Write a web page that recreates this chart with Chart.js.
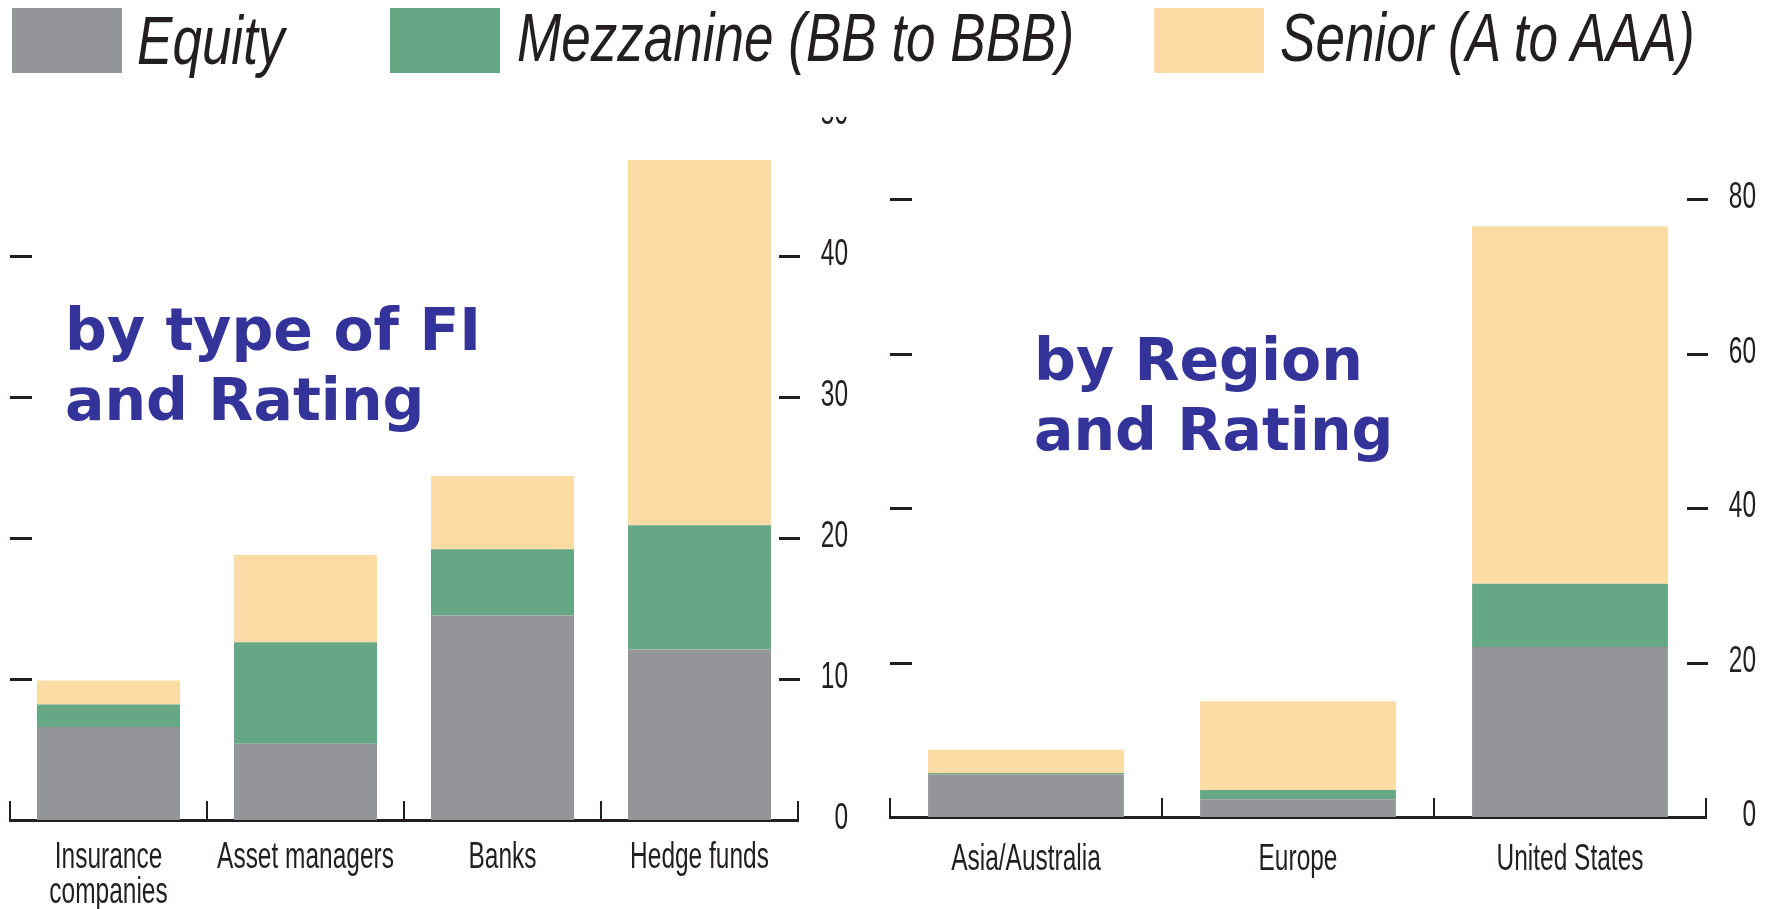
<!DOCTYPE html>
<html>
<head>
<meta charset="utf-8">
<script src="https://cdn.jsdelivr.net/npm/chart.js@4.4.1/dist/chart.umd.min.js"></script>
<style>
  html, body { margin: 0; padding: 0; background: #fff; }
  body { width: 1767px; height: 909px; position: relative; overflow: hidden; }
  .sw { position: absolute; top: 8px; width: 110px; height: 65px; }
  .lab { position: absolute; top: 3px; font: italic 68px 'Liberation Sans', Arial, sans-serif;
         line-height: 68px; color: #231f20; white-space: nowrap;
         transform: scaleX(0.78); transform-origin: 0 0; }
  #fiWrap { position: absolute; left: 0; top: 117px; width: 860px; height: 792px; overflow: hidden; }
  #fiChart { position: absolute; left: 0; top: -32px; }
  #regionChart { position: absolute; left: 880px; top: 92px; }
</style>
</head>
<body>
<div id="legend"></div>
<div id="fiWrap"><canvas id="fiChart" width="858" height="825"></canvas></div>
<canvas id="regionChart" width="886" height="815"></canvas>
<script>
const seriesNames = ['Equity', 'Mezzanine (BB to BBB)', 'Senior (A to AAA)'];
const seriesColors = ['#939598', '#66a886', '#fddba5'];

const fiTypes = [['Insurance', 'companies'], 'Asset managers', 'Banks', 'Hedge funds'];
const fiEquity = [6.6, 5.4, 14.5, 12.1];
const fiMezzanine = [1.6, 7.2, 4.7, 8.8];
const fiSenior = [1.7, 6.2, 5.2, 25.9];

const regions = ['Asia/Australia', 'Europe', 'United States'];
const regionEquity = [5.5, 2.3, 22.0];
const regionMezzanine = [0.2, 1.2, 8.2];
const regionSenior = [3.0, 11.5, 46.3];

const axisColor = '#231f20';
const labelFont = "'Liberation Sans', Arial, sans-serif";
const squeeze = 0.68; // the original uses a condensed face

// legend across the top
const legendX = [[12, 137], [390, 517], [1154, 1280]];
const legend = document.getElementById('legend');
seriesNames.forEach((name, i) => {
  const sw = document.createElement('div');
  sw.className = 'sw';
  sw.style.left = legendX[i][0] + 'px';
  sw.style.background = seriesColors[i];
  legend.appendChild(sw);
  const lab = document.createElement('div');
  lab.className = 'lab';
  lab.style.left = legendX[i][1] + 'px';
  if (i === 0) lab.style.top = '6px';
  lab.textContent = name;
  legend.appendChild(lab);
});

// short inward ticks on both sides and category separators on the baseline
const innerTicks = {
  id: 'innerTicks',
  afterDatasetsDraw(chart) {
    const { ctx, chartArea: a, scales: { x, y } } = chart;
    ctx.save();
    ctx.strokeStyle = axisColor;
    ctx.lineWidth = 3;
    ctx.beginPath();
    y.ticks.forEach(t => {
      if (t.value === 0) return;
      const py = Math.round(y.getPixelForValue(t.value)) + 0.5;
      ctx.moveTo(a.left, py);
      ctx.lineTo(a.left + 22, py);
      ctx.moveTo(a.right - 19, py);
      ctx.lineTo(a.right + 2, py);
    });
    ctx.stroke();
    ctx.lineWidth = 2;
    ctx.beginPath();
    for (let i = 0; i <= x.ticks.length; i++) {
      const px = Math.round(x.getPixelForValue(i - 0.5));
      ctx.moveTo(px, a.bottom);
      ctx.lineTo(px, a.bottom - 19);
    }
    ctx.stroke();
    ctx.restore();
  }
};

function fillSqueezed(ctx, s, x, y, align) {
  ctx.save();
  ctx.translate(x, y);
  ctx.scale(squeeze, 1);
  ctx.textAlign = align;
  ctx.fillText(s, 0, 0);
  ctx.restore();
}

// axis labels in a condensed look, placed from the scales
const squeezedLabels = {
  id: 'squeezedLabels',
  afterDraw(chart, args, opts) {
    const { ctx, chartArea: a, scales: { x, y } } = chart;
    ctx.save();
    ctx.fillStyle = axisColor;
    ctx.font = '36px ' + labelFont;
    ctx.textBaseline = 'alphabetic';
    y.ticks.forEach(t => {
      fillSqueezed(ctx, String(t.value), a.right + 50, y.getPixelForValue(t.value) + 9, 'right');
    });
    x.getLabels().forEach((lab, i) => {
      const lines = Array.isArray(lab) ? lab : [lab];
      lines.forEach((s, j) => {
        fillSqueezed(ctx, s, x.getPixelForValue(i), a.bottom + opts.xOffset + j * 35, 'center');
      });
    });
    ctx.restore();
  }
};

const panelTitle = {
  id: 'panelTitle',
  afterDraw(chart, args, opts) {
    const ctx = chart.ctx;
    ctx.save();
    ctx.font = 'bold 58.5px "DejaVu Sans", Verdana, sans-serif';
    ctx.fillStyle = '#333399';
    ctx.textBaseline = 'alphabetic';
    opts.lines.forEach((s, i) => ctx.fillText(s, opts.x, opts.y + i * 70));
    ctx.restore();
  }
};

function makeChart(id, labels, eq, mz, sr, yMax, step, barPct, title, yTop, xOffset) {
  return new Chart(document.getElementById(id), {
    type: 'bar',
    data: {
      labels: labels,
      datasets: [eq, mz, sr].map((d, i) => ({
        label: seriesNames[i],
        data: d,
        backgroundColor: seriesColors[i],
        borderWidth: 0,
        categoryPercentage: barPct,
        barPercentage: 1
      }))
    },
    options: {
      responsive: false,
      animation: false,
      devicePixelRatio: 1,
      events: [],
      layout: { padding: { left: 10, top: 30, right: 0, bottom: 0 } },
      plugins: {
        legend: { display: false },
        tooltip: { enabled: false },
        panelTitle: title,
        squeezedLabels: { xOffset: xOffset }
      },
      scales: {
        x: {
          stacked: true,
          offset: true,
          z: 1,
          grid: { display: false, drawTicks: false },
          border: { display: true, color: axisColor, width: 3 },
          ticks: { display: false },
          afterFit: s => { s.height = 90; }
        },
        y: {
          stacked: true,
          position: 'right',
          min: 0,
          max: yMax,
          grid: { display: false, drawTicks: false },
          border: { display: false },
          ticks: { display: false, stepSize: step },
          afterBuildTicks: s => { s.ticks = s.ticks.filter(t => t.value <= yTop); },
          afterFit: s => { s.width = 60; }
        }
      }
    },
    plugins: [innerTicks, squeezedLabels, panelTitle]
  });
}

makeChart('fiChart', fiTypes, fiEquity, fiMezzanine, fiSenior, 50, 10, 0.726,
  { lines: ['by type of FI', 'and Rating'], x: 65, y: 265 }, 50, 48);
makeChart('regionChart', regions, regionEquity, regionMezzanine, regionSenior, 90, 20, 0.72,
  { lines: ['by Region', 'and Rating'], x: 154, y: 288 }, 80, 53);
</script>
</body>
</html>
